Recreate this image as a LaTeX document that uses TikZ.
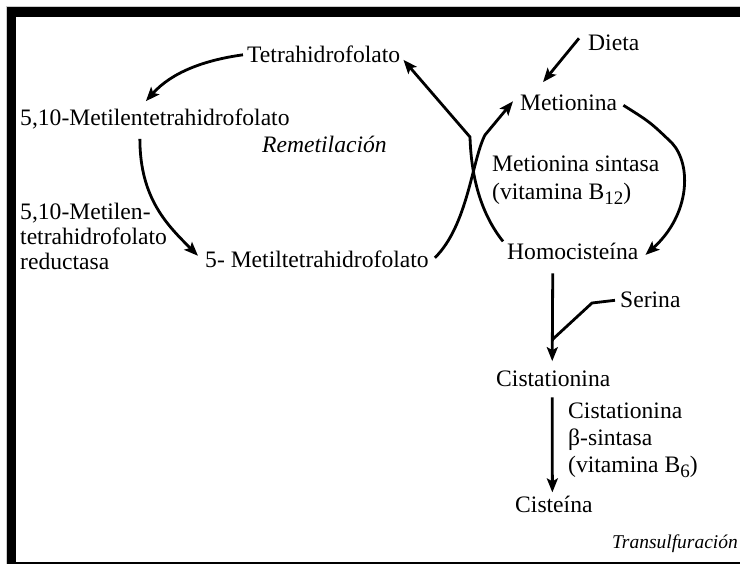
\documentclass[tikz,border=0pt]{standalone}
\usepackage{fontspec}
\setmainfont{Liberation Serif}
\usetikzlibrary{arrows.meta}
\newcommand{\lowsub}[1]{\raisebox{-5pt}{\fontsize{19pt}{20pt}\selectfont #1}}
\begin{document}
\begin{tikzpicture}[x=1pt,y=-1pt,
  lbl/.style={inner sep=0pt, anchor=base west, font=\fontsize{23.6pt}{26pt}\selectfont},
  multi/.style={lbl, align=left},
  arr/.style={line width=2.8pt, -{Stealth[length=14pt,width=11pt,inset=3pt]}},
  ln/.style={line width=2.8pt}]
\useasboundingbox (0,0) rectangle (740,564);
\fill[white] (0,0) rectangle (740,564);
\fill[gray!40] (6,6) rectangle (740,7);
\fill[gray!40] (6,6) rectangle (7,564);
\fill[black] (7,7) rectangle (740,17);
\fill[black] (7,7) rectangle (16,564);
\fill[black] (7,562) rectangle (740,564);

\node[lbl] (tetra) at (247,63) {Tetrahidrofolato};
\node[lbl] (mtf) at (20,126) {5,10-Metilentetrahidrofolato};
\node[lbl, font=\fontsize{23.6pt}{26pt}\selectfont\itshape] (remet) at (262,153) {Remetilación};
\node[multi, font=\fontsize{23.6pt}{25pt}\selectfont] (red) at (20,270) {5,10-Metilen-\\tetrahidrofolato\\reductasa};
\node[lbl] (mthf) at (205,268) {5- Metiltetrahidrofolato};
\node[lbl] (dieta) at (588,51) {Dieta};
\node[lbl] (met) at (520,111) {Metionina};
\node[multi, font=\fontsize{23.6pt}{28pt}\selectfont] (ms) at (492,200) {Metionina sintasa\\(vitamina B\lowsub{12})};
\node[lbl] (homo) at (507,260) {Homocisteína};
\node[lbl] (serina) at (620,308) {Serina};
\node[lbl] (cist) at (496,387) {Cistationina};
\node[multi, font=\fontsize{23.6pt}{27pt}\selectfont] (cbs) at (568,472) {Cistationina\\β-sintasa\\(vitamina B\lowsub{6})};
\node[lbl] (cisteina) at (515,512) {Cisteína};
\node[lbl, font=\fontsize{19.5pt}{22pt}\selectfont\itshape] (trans) at (612,548) {Transulfuración};

\draw[arr] ([xshift=-4pt]tetra.west) .. controls (205,60) and (172,72) .. ([shift={(-9pt,8pt)}]mtf.north);
\draw[arr] ([shift={(-15pt,-9pt)}]mtf.south) .. controls +(0pt,-60pt) and +(-30pt,30pt) .. ([shift={(-7pt,4pt)}]mthf.west);
\draw[arr] ([shift={(-4pt,2pt)}]homo.north west) .. controls (478,210) and (471,170) .. (470,137) -- ([shift={(3pt,-5pt)}]tetra.east);
\draw[arr] ([shift={(6pt,2pt)}]mthf.east) .. controls (468,225) and (472,160) .. (485,135) -- ([shift={(-7pt,2pt)}]met.west);
\draw[arr] ([shift={(-9pt,5pt)}]dieta.west) -- ([shift={(23pt,13pt)}]met.north west);
\draw[arr] ([shift={(6pt,-2pt)}]met.east) .. controls (650,122) .. (672,143) .. controls (692,165) and (690,215) .. ([shift={(7pt,-3pt)}]homo.east);
\draw[arr] ([shift={(-20pt,-13pt)}]homo.south) -- ([shift={(-1pt,10pt)}]cist.north);
\coordinate (j) at (553,339);
\draw[ln] ([xshift=-5pt]serina.west) -- (592,303) -- (j);
\draw[arr] ([shift={(-1pt,-10pt)}]cist.south) -- ([shift={(-1.5pt,3pt)}]cisteina.north);
\end{tikzpicture}
\end{document}
